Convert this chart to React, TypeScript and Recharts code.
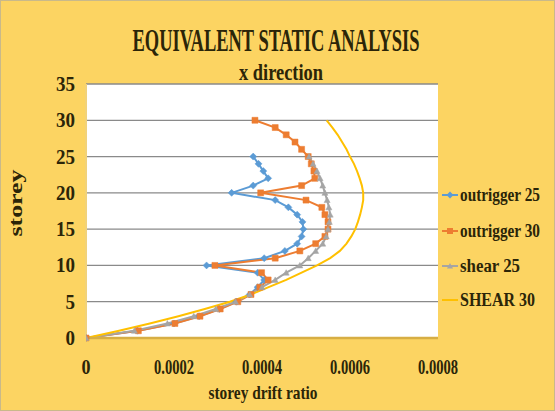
import React from 'react';
import { LineChart, Line, XAxis, YAxis, CartesianGrid } from 'recharts';

// Storey levels for the 25- and 30-storey models
const storeys25 = [0, 1, 2, 3, 4, 5, 6, 7, 8, 9, 10, 11, 12, 13, 14, 15, 16, 17, 18, 19, 20, 21, 22, 23, 24, 25];
const storeys30 = [0, 1, 2, 3, 4, 5, 6, 7, 8, 9, 10, 11, 12, 13, 14, 15, 16, 17, 18, 19, 20, 21, 22, 23, 24, 25, 26, 27, 28, 29, 30];

// Storey drift ratio per storey (bottom to top)
const outrigger25Drift = [
  0, 1.17e-4, 2.0e-4, 2.57e-4, 3.03e-4, 3.42e-4, 3.72e-4, 3.9e-4, 4.05e-4, 3.9e-4,
  2.74e-4, 4.05e-4, 4.52e-4, 4.8e-4, 4.9e-4, 4.94e-4, 4.92e-4, 4.8e-4, 4.6e-4, 4.3e-4,
  3.31e-4, 3.8e-4, 4.14e-4, 4.03e-4, 3.92e-4, 3.8e-4,
];
const outrigger30Drift = [
  0, 1.19e-4, 2.02e-4, 2.59e-4, 3.05e-4, 3.45e-4, 3.75e-4, 3.95e-4, 4.14e-4, 3.99e-4,
  2.93e-4, 4.3e-4, 4.86e-4, 5.22e-4, 5.43e-4, 5.5e-4, 5.5e-4, 5.43e-4, 5.36e-4, 5.0e-4,
  3.97e-4, 4.9e-4, 5.2e-4, 5.18e-4, 5.12e-4, 5.05e-4, 4.9e-4, 4.75e-4, 4.55e-4, 4.3e-4,
  3.84e-4,
];
const shear25Drift = [
  0, 1.1e-4, 1.85e-4, 2.45e-4, 2.95e-4, 3.4e-4, 3.72e-4, 4.0e-4, 4.3e-4, 4.55e-4,
  4.86e-4, 5.05e-4, 5.22e-4, 5.38e-4, 5.46e-4, 5.5e-4, 5.53e-4, 5.55e-4, 5.52e-4, 5.48e-4,
  5.43e-4, 5.38e-4, 5.32e-4, 5.25e-4, 5.16e-4, 5.07e-4,
];
const shear30Drift = [
  0, 0.75e-4, 1.45e-4, 2.1e-4, 2.7e-4, 3.27e-4, 3.75e-4, 4.15e-4, 4.55e-4, 4.9e-4,
  5.25e-4, 5.55e-4, 5.77e-4, 5.92e-4, 6.03e-4, 6.12e-4, 6.18e-4, 6.23e-4, 6.27e-4, 6.3e-4,
  6.3e-4, 6.27e-4, 6.22e-4, 6.16e-4, 6.09e-4, 6.0e-4, 5.92e-4, 5.82e-4, 5.72e-4, 5.6e-4,
  5.47e-4,
];

const xTicks = [0, 0.0002, 0.0004, 0.0006, 0.0008];
const xTickLabels = ['0', '0.0002', '0.0004', '0.0006', '0.0008'];
const yTicks = [0, 5, 10, 15, 20, 25, 30, 35];

const seriesNames = ['outrigger 25', 'outrigger 30', 'shear  25', 'SHEAR 30'];

const toPoints = (storeys: number[], drift: number[]) =>
  storeys.map((s, i) => ({ x: drift[i], y: s }));

const SERIF = '"Liberation Serif", "Times New Roman", serif';
const INK = '#2b2508';
const BG = '#FCD462';

type MarkerKind = 'diamond' | 'square' | 'triangle' | 'none';

const series = [
  { name: seriesNames[0], color: '#5B9BD5', marker: 'diamond' as MarkerKind, data: toPoints(storeys25, outrigger25Drift) },
  { name: seriesNames[1], color: '#ED7D31', marker: 'square' as MarkerKind, data: toPoints(storeys30, outrigger30Drift) },
  { name: seriesNames[2], color: '#A5A5A5', marker: 'triangle' as MarkerKind, data: toPoints(storeys25, shear25Drift) },
  { name: seriesNames[3], color: '#FFC000', marker: 'none' as MarkerKind, data: toPoints(storeys30, shear30Drift) },
];

const markerPath = (kind: MarkerKind, cx: number, cy: number) => {
  if (kind === 'diamond') return `M${cx},${cy - 3.5}L${cx + 3.5},${cy}L${cx},${cy + 3.5}L${cx - 3.5},${cy}Z`;
  if (kind === 'square') return `M${cx - 3},${cy - 3}h6v6h-6Z`;
  if (kind === 'triangle') return `M${cx},${cy - 3}L${cx + 3},${cy + 2.5}L${cx - 3},${cy + 2.5}Z`;
  return '';
};

const makeDot = (kind: MarkerKind, color: string) => (props: any) => {
  const { cx, cy, index } = props;
  if (cx == null || cy == null) return <g key={`m-${index}`} />;
  return <path key={`m-${index}`} d={markerPath(kind, cx, cy)} fill={color} stroke={color} strokeWidth={0.5} />;
};

const XTick = (props: any) => {
  const { x, y, payload, index } = props;
  const label = xTickLabels[index] ?? String(payload.value);
  const len = label.length === 1 ? 9 : 40;
  return (
    <text x={x} y={y + 28} textAnchor="middle" fontFamily={SERIF} fontWeight="bold" fontSize={22} fill={INK}
      textLength={len} lengthAdjust="spacingAndGlyphs">
      {label}
    </text>
  );
};

const YTick = (props: any) => {
  const { x, y, payload } = props;
  const label = String(payload.value);
  return (
    <text x={x} y={y + 7} textAnchor="end" fontFamily={SERIF} fontWeight="bold" fontSize={21} fill={INK}
      textLength={label.length * 9.5} lengthAdjust="spacingAndGlyphs">
      {label}
    </text>
  );
};

const legendRows = [195, 231, 266, 300];
const legendWidths = [80, 80, 60, 75];

export default function App() {
  return (
    <div style={{ position: 'absolute', left: 0, top: 0, width: 555, height: 411, background: BG }}>
      <LineChart width={555} height={411} margin={{ top: 84, right: 117, bottom: 0, left: 0 }}>
        <CartesianGrid vertical={false} horizontal fill="#ffffff" stroke="#8a8a8a" strokeWidth={1.3} />
        <XAxis
          type="number"
          dataKey="x"
          domain={[0, 0.0008]}
          ticks={xTicks}
          height={73}
          tickLine={false}
          axisLine={{ stroke: '#D7AE44', strokeWidth: 2.5 }}
          tick={<XTick />}
          allowDataOverflow
        />
        <YAxis
          type="number"
          dataKey="y"
          domain={[0, 35]}
          ticks={yTicks}
          width={86}
          tickLine={false}
          tickMargin={5}
          axisLine={{ stroke: '#F1D27A', strokeWidth: 2 }}
          tick={<YTick />}
        />
        {series.map((s) => (
          <Line
            key={s.name}
            name={s.name}
            data={s.data}
            dataKey="y"
            type="linear"
            stroke={s.color}
            strokeWidth={2}
            dot={s.marker === 'none' ? false : makeDot(s.marker, s.color)}
            activeDot={false}
            isAnimationActive={false}
          />
        ))}
      </LineChart>
      <svg width={555} height={411} style={{ position: 'absolute', left: 0, top: 0, pointerEvents: 'none' }}>
        <rect x={0.5} y={0.5} width={554} height={410} fill="none" stroke="#c9b98a" strokeWidth={1} />
        <text x={276} y={51} textAnchor="middle" fontFamily={SERIF} fontWeight="bold" fontSize={31} fill={INK}
          textLength={287} lengthAdjust="spacingAndGlyphs">
          EQUIVALENT STATIC ANALYSIS
        </text>
        <text x={281} y={80} textAnchor="middle" fontFamily={SERIF} fontWeight="bold" fontSize={24} fill={INK}
          textLength={84} lengthAdjust="spacingAndGlyphs">
          x direction
        </text>
        <text x={263} y={399} textAnchor="middle" fontFamily={SERIF} fontWeight="bold" fontSize={19} fill={INK}
          textLength={109} lengthAdjust="spacingAndGlyphs">
          storey drift  ratio
        </text>
        <text x={0} y={0} transform="translate(22,203) rotate(-90)" textAnchor="middle" fontFamily={SERIF}
          fontWeight="bold" fontSize={19} fill={INK} textLength={67} lengthAdjust="spacingAndGlyphs">
          storey
        </text>
        {series.map((s, i) => (
          <g key={s.name}>
            <line x1={442} x2={458} y1={legendRows[i]} y2={legendRows[i]} stroke={s.color} strokeWidth={2} />
            {s.marker !== 'none' && (
              <path d={markerPath(s.marker, 450, legendRows[i])} fill={s.color} />
            )}
            <text x={460} y={legendRows[i] + 6} fontFamily={SERIF} fontWeight="bold" fontSize={18} fill={INK}
              textLength={legendWidths[i]} lengthAdjust="spacingAndGlyphs">
              {s.name}
            </text>
          </g>
        ))}
      </svg>
    </div>
  );
}
